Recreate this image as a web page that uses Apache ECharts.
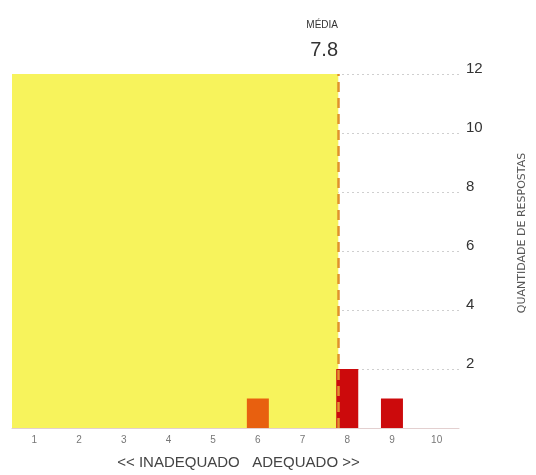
<!DOCTYPE html>
<html>
<head>
<meta charset="utf-8">
<script src="https://cdn.jsdelivr.net/npm/echarts@6/dist/echarts.min.js"></script>
<style>html,body{margin:0;padding:0;background:#fff;}#c{width:536px;height:475px;}</style>
</head>
<body>
<div id="c"></div>
<script>
var categories = ['1','2','3','4','5','6','7','8','9','10'];
var counts = [0,0,0,0,0,1,0,2,1,0];
var barColors = ['#e8600f','#e8600f','#e8600f','#e8600f','#e8600f','#e8600f','#e8600f','#cc0a0c','#cc0a0c','#cc0a0c'];
var mean = 7.8;
var meanLabel = 'MÉDIA';
var xName = '<< INADEQUADO   ADEQUADO >>';
var yName = 'QUANTIDADE DE RESPOSTAS';

var chart = echarts.init(document.getElementById('c'));
var font = 'Liberation Sans, Arial, sans-serif';
chart.setOption({
  animation: false,
  textStyle: {fontFamily: font},
  title: [
    {text: meanLabel, right: 193, top: 15, textStyle: {fontSize: 10, fontWeight: 'normal', color: '#333', fontFamily: font}},
    {text: String(mean), right: 193, top: 35, textStyle: {fontSize: 20, fontWeight: 'normal', color: '#333', fontFamily: font}}
  ],
  grid: {left: 12, right: 70, top: 74, bottom: 44},
  xAxis: [
    {
      type: 'category', data: categories,
      axisLine: {show: true, lineStyle: {color: '#e3d0d0', width: 1}},
      axisTick: {show: false},
      axisLabel: {fontSize: 10, color: '#777', margin: 7},
      name: xName, nameLocation: 'middle', nameGap: 27,
      nameTextStyle: {fontSize: 15, color: '#444', padding: [0, 0, 0, 6]}
    },
    {type: 'value', min: 0.5, max: 10.5, show: false}
  ],
  yAxis: {
    type: 'value', position: 'right', min: 0, max: 12, interval: 2,
    axisLine: {show: false}, axisTick: {show: false},
    splitLine: {show: true, lineStyle: {color: '#cfcfcf', type: [2, 3], width: 1}},
    axisLabel: {fontSize: 15, color: '#333', margin: 7, verticalAlign: 'bottom', padding: [0, 0, -2, 0],
      formatter: function (v) { return v === 0 ? '' : String(v); }},
    name: yName, nameLocation: 'middle', nameGap: 58, nameRotate: 90,
    nameTextStyle: {fontSize: 11, color: '#555', fontFamily: 'DejaVu Sans, sans-serif', padding: [0, 0, 0, 36]}
  },
  series: [
    {
      type: 'line', xAxisIndex: 1, data: [], z: 1, silent: true,
      markArea: {
        silent: true,
        itemStyle: {color: '#f7f35c', opacity: 1},
        data: [[{xAxis: 0.5}, {xAxis: mean}]]
      }
    },
    {
      type: 'bar', xAxisIndex: 0, z: 3, barWidth: 22,
      data: counts.map(function (v, i) { return {value: v, itemStyle: {color: barColors[i]}}; })
    },
    {
      type: 'line', xAxisIndex: 1, data: [], z: 5, silent: true,
      markLine: {
        silent: true, symbol: 'none', label: {show: false},
        lineStyle: {color: '#e0922c', type: [10, 6], width: 2.5},
        data: [{xAxis: mean}]
      }
    }
  ]
});
</script>
</body>
</html>
